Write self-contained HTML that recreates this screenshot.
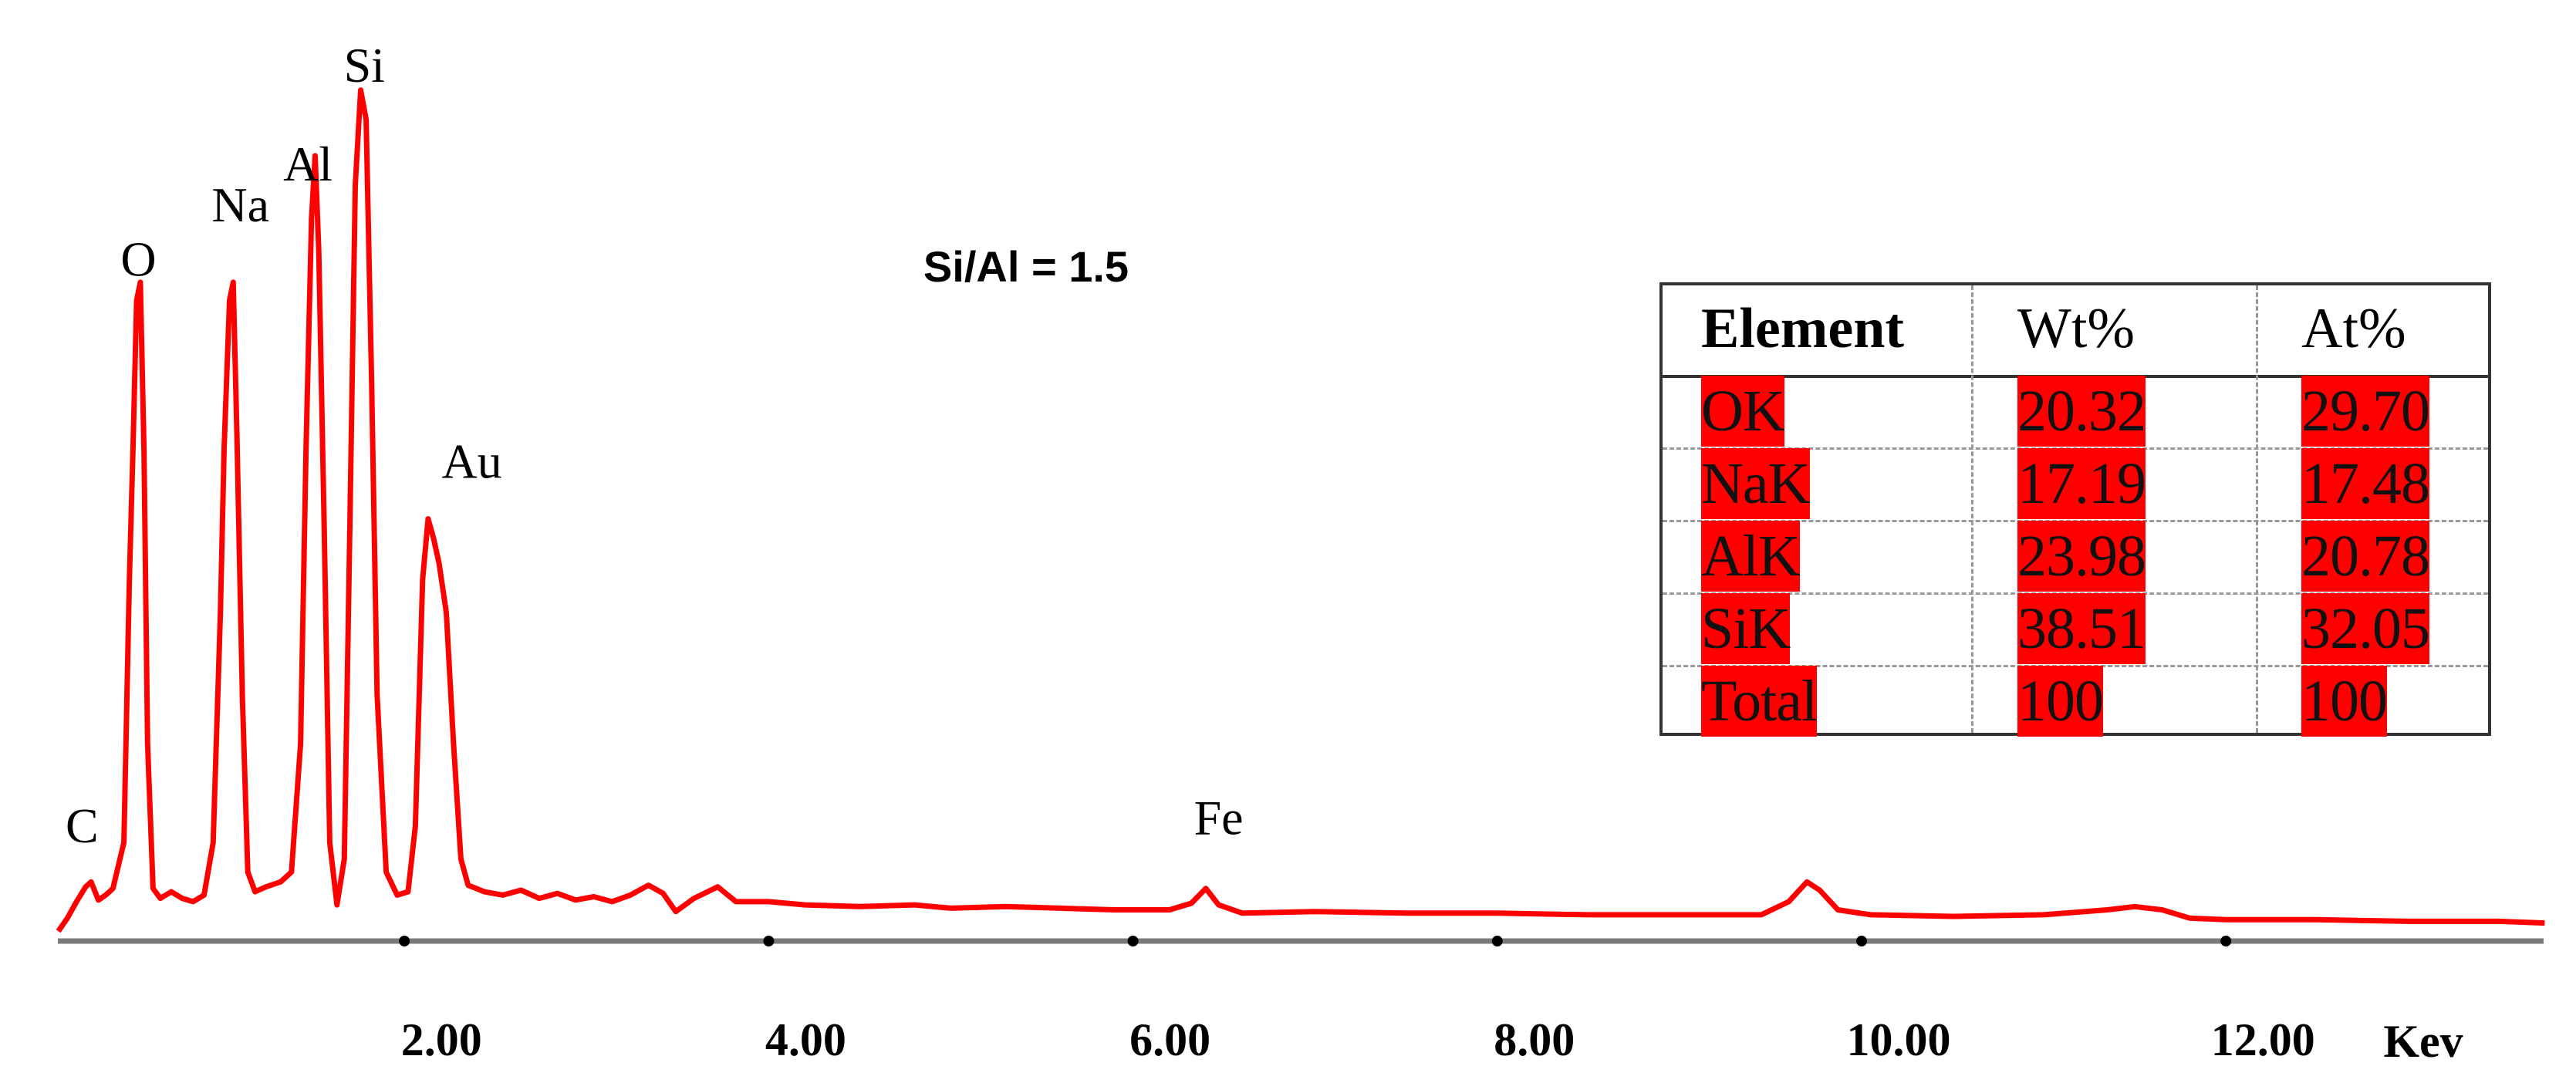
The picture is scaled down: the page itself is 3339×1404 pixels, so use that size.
<!DOCTYPE html>
<html><head><meta charset="utf-8"><style>
html,body{margin:0;padding:0;background:#fff;}
#wrap{position:relative;width:3339px;height:1404px;overflow:hidden;background:#fff;font-family:"Liberation Serif",serif;}
svg{position:absolute;left:0;top:0;}
#tbl{position:absolute;left:2151px;top:366px;width:1078px;height:588px;border:4px solid #333;box-sizing:border-box;}
.row{position:absolute;left:0;width:100%;}
.cell{position:absolute;top:0;height:100%;}
.hd{font-weight:bold;font-size:74px;line-height:112px;}
.hn{font-size:74px;line-height:112px;}
.v{display:inline-block;background:#f00;color:#111;font-size:76px;line-height:92px;height:92px;letter-spacing:-1px;}
</style></head><body>
<div id="wrap">
<svg id="chart" width="3339" height="1404" viewBox="0 0 3339 1404"></svg>
<div id="tbl">
 <div class="row" style="top:0;height:116px;border-bottom:4px solid #333;">
  <div class="cell hd" style="left:50px">Element</div>
  <div class="cell hn" style="left:460px">Wt%</div>
  <div class="cell hn" style="left:828px">At%</div>
 </div>
 <div id="rows"></div>
 <div style="position:absolute;left:400px;top:0;height:100%;border-left:3px dashed #999;"></div>
 <div style="position:absolute;left:769px;top:0;height:100%;border-left:3px dashed #999;"></div>
</div>
</div>
<script>
const energies=[0.10,0.15,0.20,0.25,0.28,0.32,0.36,0.40,0.46,0.49,0.51,0.53,0.55,0.57,0.59,0.62,0.66,0.72,0.78,0.84,0.90,0.95,0.99,1.01,1.04,1.06,1.08,1.11,1.14,1.18,1.24,1.32,1.38,1.43,1.46,1.49,1.51,1.53,1.56,1.59,1.63,1.67,1.70,1.73,1.76,1.79,1.82,1.85,1.90,1.96,2.02,2.06,2.10,2.13,2.16,2.19,2.23,2.27,2.31,2.35,2.44,2.54,2.64,2.74,2.84,2.94,3.04,3.14,3.24,3.34,3.42,3.49,3.59,3.72,3.82,4.00,4.20,4.50,4.80,5.00,5.30,5.60,5.90,6.20,6.32,6.40,6.47,6.60,7.00,7.50,8.00,8.50,9.00,9.45,9.60,9.70,9.77,9.87,10.05,10.50,11.00,11.35,11.50,11.65,11.80,12.00,12.50,13.00,13.50,13.75];
const counts=[6,14,24,33,36,25,28,32,60,220,300,390,401,300,120,32,26,30,26,24,28,60,200,300,390,401,310,150,42,30,33,36,42,120,300,440,478,420,250,60,22,50,250,460,518,500,340,150,42,28,30,70,220,257,245,230,200,120,50,34,30,28,31,26,29,25,27,24,28,34,29,18,26,33,24,24,22,21,22,20,21,20,19,19,23,32,22,17,18,17,17,16,16,16,24,36,31,19,16,15,16,19,21,19,14,13,13,12,12,11];
const tickValues=[2,4,6,8,10,12];
const tickLabels=["2.00","4.00","6.00","8.00","10.00","12.00"];
const peakNames=["C","O","Na","Al","Si","Au","Fe"];
const peakEnergies=[0.23,0.54,1.10,1.47,1.78,2.37,6.47];
const peakLabelCounts=[60,405,438,463,523,282,65];
const tblElements=["OK","NaK","AlK","SiK","Total"];
const tblWt=["20.32","17.19","23.98","38.51","100"];
const tblAt=["29.70","17.48","20.78","32.05","100"];

const NS="http://www.w3.org/2000/svg";
const svg=document.getElementById('chart');
const X0=52,PXK=236.1,Y0=1220,PYC=2.13;
const xs=e=>X0+e*PXK, ys=c=>Y0-c*PYC;
function mk(t,a){const el=document.createElementNS(NS,t);for(const k in a)el.setAttribute(k,a[k]);svg.appendChild(el);return el;}

let ax=mk('line',{x1:75,x2:3297,y1:Y0,y2:Y0,stroke:'#7a7a7a','stroke-width':7});


tickValues.forEach((v,i)=>{
  const d=mk('circle',{cx:xs(v),cy:Y0,r:7,fill:'#000'});
  
  
  const t=mk('text',{x:xs(v)+48,y:1368,'text-anchor':'middle','font-size':60,'font-weight':'bold','font-family':'Liberation Serif, serif',fill:'#000'});
  t.textContent=tickLabels[i];
  
  
});
const kev=mk('text',{x:3141,y:1370,'text-anchor':'middle','font-size':60,'font-weight':'bold','font-family':'Liberation Serif, serif',fill:'#000'});
kev.textContent='Kev';



let d='';
energies.forEach((e,i)=>{d+=(i?'L':'M')+xs(e).toFixed(1)+' '+ys(counts[i]).toFixed(1);});
const p=mk('path',{d:d,fill:'none',stroke:'#f00','stroke-width':7,'stroke-linejoin':'round'});



peakNames.forEach((n,i)=>{
  const t=mk('text',{x:xs(peakEnergies[i]),y:ys(peakLabelCounts[i]),'text-anchor':'middle','font-size':64,'font-family':'Liberation Serif, serif',fill:'#000'});
  t.textContent=n;
  
  
});
const r=mk('text',{x:1330,y:365,'text-anchor':'middle','font-size':56,'font-weight':'bold','font-family':'Liberation Sans, sans-serif',fill:'#000'});
r.textContent='Si/Al = 1.5';



const rows=document.getElementById('rows');
tblElements.forEach((el,i)=>{
  const row=document.createElement('div');
  row.className='row';
  row.style.top=(116+i*94)+'px';row.style.height='94px';
  if(i<4)row.style.borderBottom='3px dashed #999';
  
  
  [[50,el],[460,tblWt[i]],[828,tblAt[i]]].forEach(([l,txt])=>{
    const c=document.createElement('div');c.className='cell';c.style.left=l+'px';c.style.top='1px';
    
    
    const s=document.createElement('span');s.className='v';s.textContent=txt;
    c.appendChild(s);row.appendChild(c);
  });
  rows.appendChild(row);
});
</script>
</body></html>
